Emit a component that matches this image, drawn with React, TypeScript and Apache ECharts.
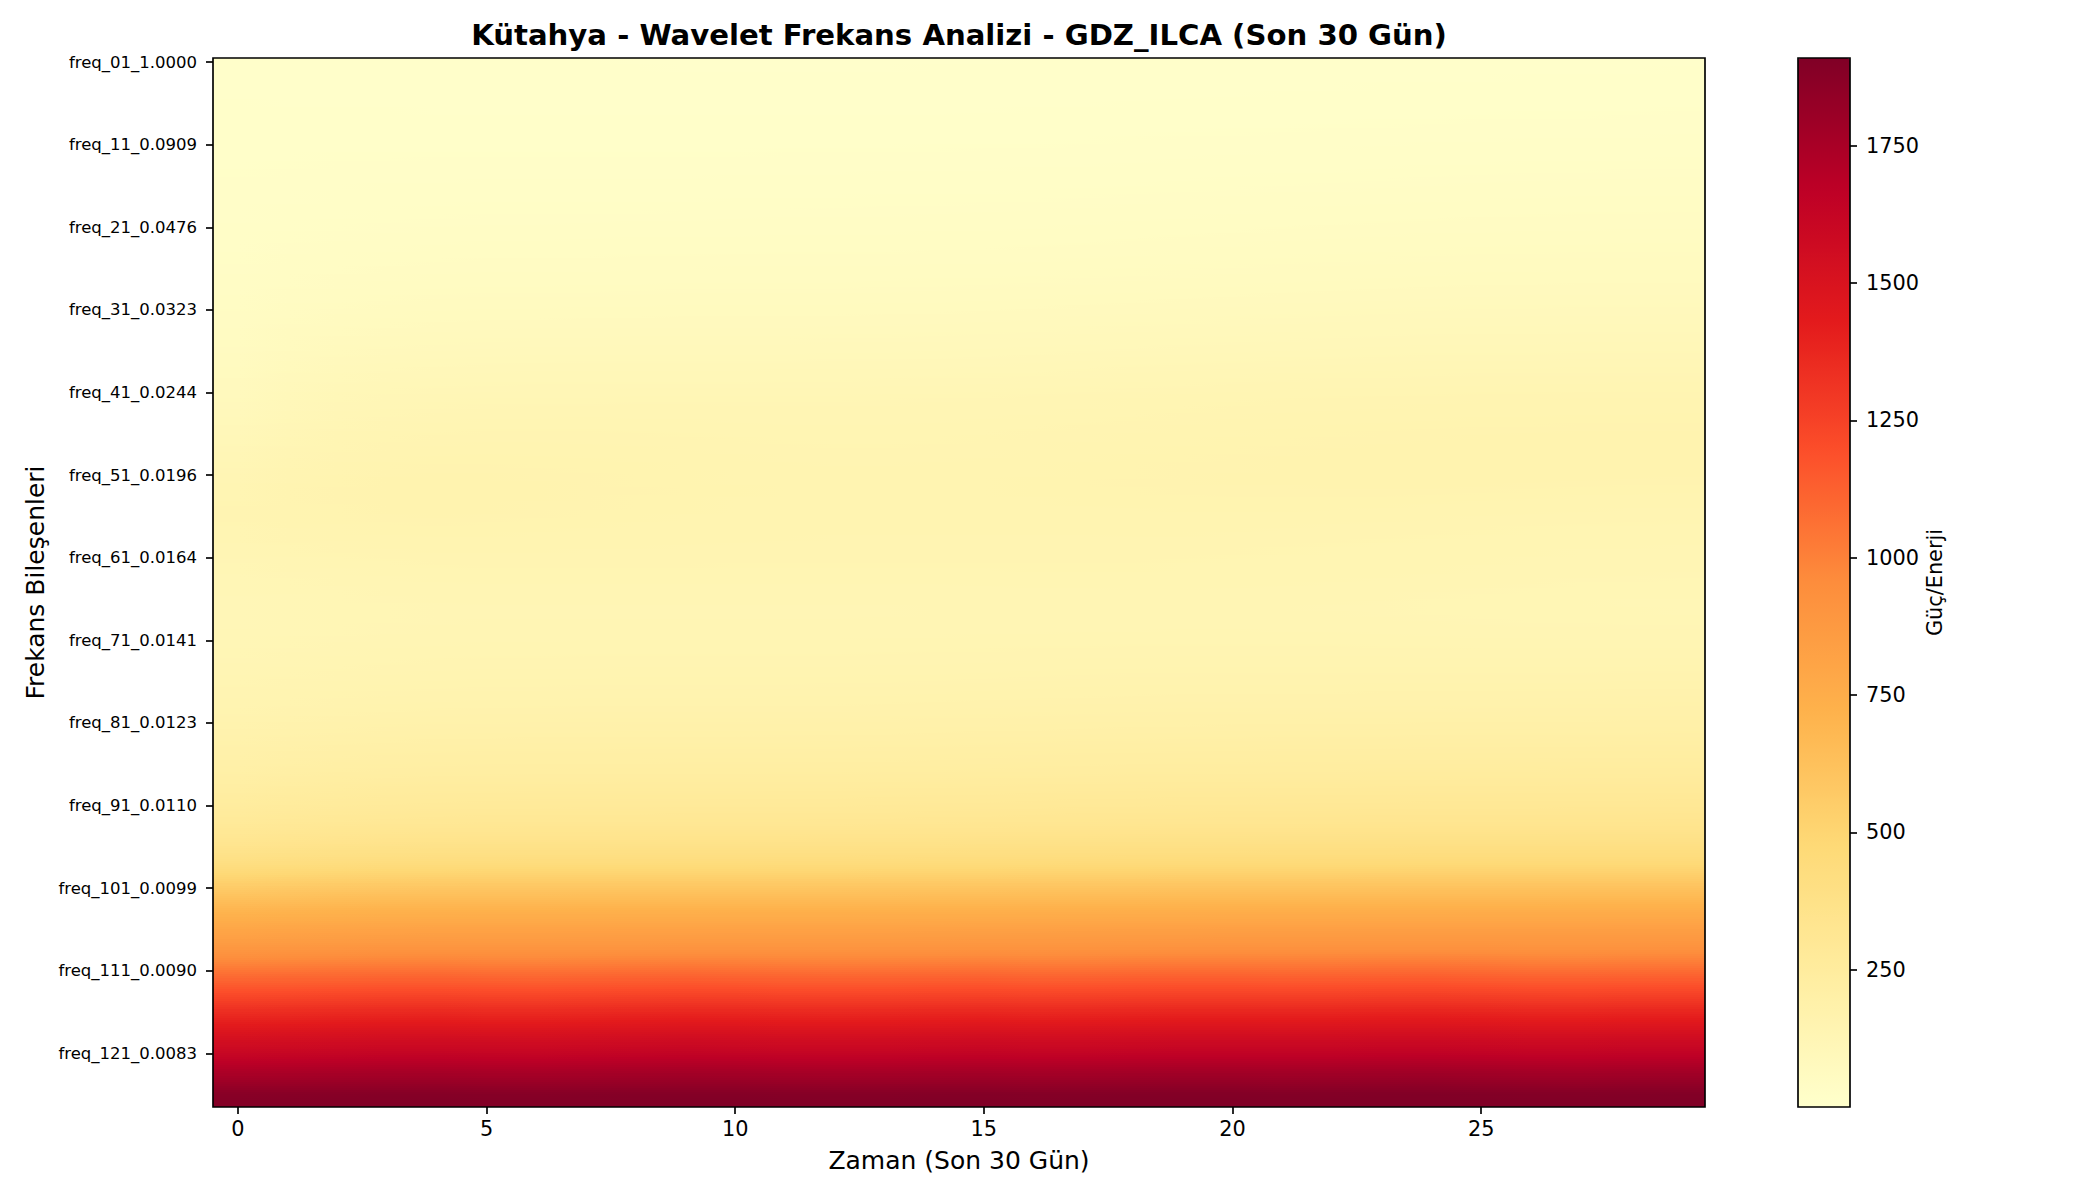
import { useEffect, useRef } from 'react'
import * as echarts from 'echarts'

// colormap YlOrRd
const colorStops = ['#ffffcc', '#ffeda0', '#fed976', '#feb24c', '#fd8d3c', '#fc4e2a', '#e31a1c', '#bd0026', '#800026']
const colorbarTicks = [250, 500, 750, 1000, 1250, 1500, 1750]
const colorMax = 1910
const days = Array.from({ length: 30 }, (_, i) => String(i))

// rows freq_01 .. freq_40, values
const topRows = [
  [12,11,11,10,10,9,9,9,8,8,8,8,8,8,8,8,9,9,9,10,10,11,11,11,12,12,12,12,13,13],
  [12,11,11,10,10,10,9,9,9,8,8,8,8,8,9,9,9,9,10,10,11,11,12,12,12,13,13,13,13,14],
  [12,12,11,11,10,10,10,9,9,9,9,9,9,9,9,9,10,10,10,11,11,12,12,13,13,13,14,14,14,15],
  [13,12,12,11,11,11,10,10,10,10,9,9,9,10,10,10,10,11,11,12,12,13,13,14,14,14,15,15,15,16],
  [13,13,12,12,12,11,11,11,11,10,10,10,10,11,11,11,11,12,12,13,13,14,14,15,15,15,16,16,16,17],
  [14,13,13,13,12,12,12,12,12,12,11,11,11,12,12,12,13,13,14,14,15,15,16,16,16,17,17,17,18,18],
  [14,14,14,14,13,13,13,13,13,13,13,13,13,13,13,13,14,14,15,15,16,16,17,17,18,18,19,19,19,20],
  [15,15,15,15,14,14,14,14,14,14,14,14,14,14,14,15,15,16,16,17,17,18,18,19,19,20,20,20,21,21],
  [15,16,16,16,15,15,15,15,15,15,15,15,15,15,16,16,16,17,17,18,19,19,20,20,21,21,22,22,22,23],
  [16,16,17,17,16,16,16,16,16,16,16,16,16,17,17,17,18,18,19,20,20,21,21,22,23,23,24,24,24,25],
  [17,17,18,18,18,18,18,18,18,18,18,18,18,18,19,19,19,20,21,21,22,23,23,24,25,25,26,26,26,27],
  [17,18,19,19,19,19,19,19,19,19,19,20,20,20,20,21,21,22,22,23,24,25,25,26,27,27,28,28,28,29],
  [18,19,20,20,21,21,21,21,21,21,21,21,22,22,22,22,23,23,24,25,26,27,27,28,29,29,30,30,30,31],
  [19,20,21,22,22,22,22,22,22,22,23,23,23,24,24,24,25,25,26,27,28,29,29,30,31,31,32,32,33,33],
  [20,21,22,23,23,24,24,24,24,24,25,25,25,26,26,26,27,27,28,29,30,31,31,32,33,34,34,35,35,35],
  [20,22,24,25,25,26,26,26,26,26,27,27,27,28,28,28,29,29,30,31,32,33,34,35,35,36,37,37,37,38],
  [21,23,25,26,27,28,28,28,28,28,29,29,29,30,30,30,31,32,33,34,35,36,36,37,38,39,39,40,40,40],
  [22,24,27,28,29,30,30,30,30,30,31,31,31,32,32,33,33,34,35,36,37,38,39,40,41,41,42,42,43,43],
  [23,26,28,30,31,32,32,32,32,33,33,33,34,34,34,35,35,36,37,38,39,41,42,43,43,44,45,45,45,46],
  [24,27,30,32,33,34,34,34,35,35,35,36,36,36,37,37,38,39,40,41,42,43,44,45,46,47,47,48,48,48],
  [25,29,32,34,35,36,36,37,37,37,38,38,38,38,39,39,40,41,42,43,44,46,47,48,49,49,50,50,51,51],
  [27,31,34,36,38,39,39,39,40,40,40,41,41,41,42,42,43,44,45,46,47,49,50,51,52,53,53,54,54,54],
  [28,33,36,38,40,41,41,42,42,42,43,43,43,43,44,44,45,46,47,49,50,52,53,54,55,55,56,56,57,57],
  [30,35,38,41,43,44,44,44,45,45,45,46,46,46,47,47,48,49,50,52,53,55,56,57,58,59,59,60,60,60],
  [32,37,41,44,46,47,47,47,48,48,49,49,49,49,50,50,51,52,54,55,57,58,59,60,61,62,63,63,63,64],
  [34,40,44,47,49,50,50,50,51,51,52,52,52,52,53,53,54,56,57,59,60,62,63,64,65,66,66,67,67,67],
  [36,42,47,50,52,53,53,54,54,55,55,55,55,55,56,56,57,59,60,62,63,65,66,67,68,69,70,70,70,71],
  [38,45,50,53,55,56,56,57,57,58,58,58,58,59,59,60,61,62,64,65,67,69,70,71,72,73,73,74,74,74],
  [40,48,53,56,59,60,60,60,61,62,62,62,62,62,63,64,65,66,68,70,71,73,74,75,76,77,77,78,78,78],
  [43,51,56,60,63,64,64,65,65,66,66,66,66,67,67,68,69,71,72,74,76,77,78,79,80,81,82,82,82,83],
  [46,54,60,64,67,68,68,69,69,70,70,70,70,71,71,72,73,75,77,79,80,82,83,84,85,86,86,87,87,87],
  [48,57,64,68,71,72,72,73,73,74,74,74,74,75,76,77,78,80,81,83,85,86,87,88,89,90,91,91,91,92],
  [51,61,68,72,75,76,77,77,78,78,78,78,79,79,80,81,82,84,86,88,89,91,92,93,94,95,95,96,96,96],
  [54,65,72,77,80,81,82,82,83,83,83,83,84,84,85,86,87,89,91,93,94,96,97,98,99,100,100,101,101,101],
  [58,69,77,82,85,86,87,87,88,88,88,88,89,89,90,91,92,94,96,98,99,101,102,103,104,105,105,106,106,106],
  [61,73,82,87,90,91,92,93,93,93,93,93,94,94,95,96,97,99,101,103,105,106,107,108,109,110,110,111,111,111],
  [65,78,87,92,95,96,97,98,98,98,98,98,99,99,100,101,103,105,107,109,110,112,113,114,115,115,116,116,116,117],
  [68,82,91,97,100,102,103,103,103,103,103,104,104,104,105,106,108,110,112,114,116,117,118,119,120,121,121,122,122,122],
  [72,87,96,102,105,107,108,108,108,108,108,109,109,109,111,112,113,115,118,120,121,123,124,125,126,127,127,128,128,128],
  [76,91,101,107,110,112,113,113,113,113,113,114,114,115,116,117,119,121,123,125,127,129,130,131,132,132,133,133,134,134],
]

// rows freq_41 .. freq_90
const middleRows = [
  [80,95,106,112,115,117,118,118,119,119,119,119,119,120,121,122,124,126,128,131,133,134,135,136,137,138,138,139,139,140],
  [85,100,111,117,121,123,124,124,124,125,125,125,125,126,127,128,130,132,134,137,138,140,141,142,143,144,144,145,145,146],
  [90,105,116,122,126,128,129,129,130,130,129,128,128,128,129,130,131,133,136,138,140,142,143,144,145,146,146,147,147,148],
  [95,110,120,126,130,132,132,133,132,132,131,130,130,130,131,132,134,136,138,141,143,145,146,147,148,149,149,150,150,150],
  [100,114,124,130,134,136,136,136,136,135,134,133,133,133,134,135,137,139,141,144,146,148,149,150,151,152,152,153,153,153],
  [105,119,129,134,138,140,140,140,139,138,137,136,135,135,136,138,140,142,144,146,148,150,152,153,154,154,155,155,155,155],
  [110,124,134,139,142,144,144,143,142,141,140,139,138,138,139,140,142,144,146,148,150,152,153,154,155,156,156,156,156,156],
  [115,129,138,144,146,147,147,146,145,144,143,141,140,140,141,142,144,146,148,150,152,153,155,156,157,157,157,157,157,157],
  [120,133,142,148,150,151,150,149,148,146,145,143,142,142,143,144,146,148,150,152,153,155,156,157,158,158,158,158,157,157],
  [125,137,146,151,153,153,152,151,150,148,147,145,144,144,145,146,148,150,151,153,154,155,156,157,158,158,158,158,157,157],
  [129,141,149,154,155,155,154,153,151,150,148,147,146,146,147,148,149,151,152,154,155,156,156,157,157,157,157,156,156,155],
  [133,144,152,156,157,157,155,154,152,151,149,148,147,147,148,149,150,151,153,154,155,155,156,156,156,156,155,154,153,153],
  [136,146,153,157,158,157,156,154,153,151,150,148,147,147,148,149,150,151,152,153,154,154,154,154,154,153,152,151,151,150],
  [138,147,153,157,158,157,155,154,152,151,149,148,147,147,148,149,149,150,151,152,152,152,152,152,151,150,149,148,147,147],
  [140,147,152,156,157,156,154,153,151,150,148,147,146,146,147,147,148,149,149,150,150,150,150,149,148,147,146,145,144,144],
  [140,146,151,154,155,154,153,151,150,149,147,146,146,146,146,146,147,147,148,148,148,148,147,146,145,144,143,142,141,141],
  [139,145,149,152,153,152,151,150,149,147,146,146,145,145,145,145,146,146,146,146,146,145,144,143,142,141,140,139,139,138],
  [137,142,146,150,151,150,149,148,147,146,145,145,144,144,144,144,144,144,145,145,144,143,142,141,140,139,138,137,136,136],
  [134,140,144,147,148,148,147,146,146,145,144,144,143,143,143,143,143,143,143,143,142,141,140,139,138,137,136,135,134,134],
  [131,136,141,144,145,145,145,144,144,143,143,142,142,142,142,142,142,142,142,141,140,139,138,137,136,135,134,133,133,132],
  [128,133,138,140,142,142,142,142,142,141,141,141,140,140,140,140,140,140,140,140,139,138,137,136,135,134,133,132,131,131],
  [125,130,134,137,139,140,140,140,140,140,139,139,139,139,139,139,139,139,139,138,137,137,136,135,134,133,131,130,130,129],
  [122,127,131,134,136,137,137,137,137,137,137,137,137,137,137,137,138,138,138,138,137,137,136,134,133,132,130,129,128,127],
  [120,125,129,131,133,134,134,134,134,134,134,134,134,134,134,134,135,135,135,135,135,134,133,132,130,129,128,126,126,125],
  [118,123,126,129,131,131,131,131,131,131,131,131,131,131,131,132,132,132,133,133,132,132,131,129,128,127,125,124,124,123],
  [116,121,124,127,128,129,129,129,129,129,129,129,129,129,129,130,130,130,131,131,130,130,129,128,126,125,124,123,122,122],
  [115,119,123,125,127,127,127,127,127,127,127,127,127,127,128,128,128,129,129,129,129,128,127,126,125,124,123,122,122,121],
  [115,119,122,125,126,127,127,127,127,127,127,127,127,127,128,128,129,129,130,130,129,129,128,127,126,125,124,123,123,122],
  [116,120,123,126,127,128,128,128,128,128,128,128,128,129,129,130,130,131,131,131,131,131,130,129,128,127,126,126,125,125],
  [117,121,125,127,129,130,130,130,130,130,130,130,130,131,131,132,132,133,133,134,134,133,133,132,131,130,130,129,129,128],
  [119,123,127,130,131,132,132,133,133,133,133,133,133,134,134,135,135,136,136,137,137,137,136,135,135,134,134,133,133,133],
  [122,126,130,133,134,135,135,136,136,136,136,136,136,137,137,138,139,139,140,140,140,140,140,139,139,138,138,138,138,138],
  [125,129,133,136,137,138,138,139,139,139,139,139,139,140,141,141,142,143,143,144,144,144,144,144,143,143,143,143,143,143],
  [128,132,136,139,141,142,142,142,143,143,143,143,143,144,144,145,146,147,147,148,148,148,148,148,148,148,148,148,148,149],
  [132,136,140,143,145,146,146,146,147,147,147,147,147,148,148,149,150,151,152,152,153,153,153,153,153,153,153,153,154,154],
  [136,140,144,147,149,150,150,150,151,151,151,151,151,152,153,154,155,156,157,157,158,158,158,158,158,159,159,159,160,160],
  [140,144,148,151,153,154,154,155,155,155,155,155,156,156,157,158,160,161,162,163,163,163,163,164,164,164,165,165,166,166],
  [144,148,153,156,158,159,159,160,160,160,160,161,161,162,163,164,165,166,167,168,168,169,169,169,170,170,171,171,172,172],
  [148,153,158,161,163,164,165,165,165,165,166,166,166,167,168,169,171,172,173,174,174,175,175,176,176,177,177,178,178,179],
  [153,159,164,167,170,171,171,172,172,172,172,173,173,174,175,176,178,179,180,181,182,182,183,183,184,184,185,185,186,186],
  [160,166,171,175,177,178,179,179,179,180,180,180,181,181,183,184,185,187,188,189,190,190,191,191,192,192,193,193,194,194],
  [167,173,178,182,184,186,186,186,187,187,187,188,188,189,190,192,193,195,196,197,198,198,199,200,200,201,201,202,202,203],
  [174,180,186,189,192,193,194,194,195,195,195,195,196,197,198,199,201,203,204,205,206,207,208,208,209,209,210,210,211,211],
  [181,188,194,197,200,201,202,202,203,203,203,203,204,205,206,208,210,211,213,214,215,216,216,217,218,218,219,219,220,220],
  [188,196,202,205,208,209,210,210,211,211,211,212,212,213,215,216,218,220,221,223,224,225,225,226,227,227,228,229,229,230],
  [196,204,210,214,216,218,219,219,219,220,220,220,221,222,224,225,227,229,231,232,233,234,235,236,236,237,238,238,239,239],
  [204,213,219,223,226,227,228,229,229,229,229,230,230,232,233,235,237,239,241,242,243,244,245,246,247,247,248,249,249,250],
  [214,223,230,234,237,238,239,240,240,240,240,241,241,243,245,247,249,251,252,254,255,256,257,258,258,259,260,260,261,261],
  [226,235,242,247,250,251,252,252,253,253,253,254,254,256,258,260,262,264,266,267,268,269,270,271,272,273,273,274,275,275],
  [238,247,254,259,262,264,265,265,266,266,266,267,267,269,271,273,275,278,279,281,282,283,284,285,286,286,287,288,288,289],
]

// rows freq_91 .. freq_127
const bottomRows = [
  [248,257,264,269,272,274,275,276,276,276,277,277,278,280,282,284,286,288,290,292,293,294,295,296,297,298,298,299,299,300],
  [262,271,278,283,286,288,289,290,290,291,291,291,292,294,296,298,301,303,305,306,308,309,310,311,312,313,313,314,314,315],
  [277,286,293,298,301,303,304,305,305,306,306,306,307,309,311,314,316,318,320,322,323,324,325,326,327,328,329,329,330,331],
  [296,305,313,318,321,323,325,325,326,326,326,327,328,330,332,334,337,339,341,343,344,346,347,348,349,349,350,351,351,352],
  [316,325,333,338,342,344,345,346,346,347,347,348,349,351,353,355,358,360,362,364,366,367,368,369,370,371,371,372,372,373],
  [341,351,359,364,368,370,371,372,373,373,373,374,375,377,379,382,384,387,389,391,392,393,394,396,397,397,398,398,399,399],
  [372,382,390,395,399,401,402,403,404,404,404,405,406,408,411,413,416,418,420,422,423,425,426,427,428,428,429,430,430,430],
  [407,417,425,431,434,436,438,439,439,440,440,441,441,443,446,449,451,454,456,457,459,460,461,462,463,464,464,465,465,465],
  [456,466,475,481,485,487,488,489,489,490,490,491,491,493,496,498,501,503,505,507,508,509,510,511,512,513,513,513,514,514],
  [507,518,526,532,536,537,538,539,540,540,540,541,542,544,546,548,550,552,554,556,558,559,560,561,562,562,562,563,563,563],
  [564,574,582,588,592,594,594,595,596,597,597,597,598,600,602,604,606,608,610,612,613,614,615,616,617,617,618,618,618,619],
  [612,621,629,634,638,639,639,640,641,642,642,642,643,645,647,649,651,653,655,657,658,659,660,661,662,662,662,663,663,663],
  [660,667,674,680,683,684,684,685,686,687,688,688,689,690,692,694,696,698,700,702,703,704,705,706,707,707,707,708,708,708],
  [706,713,720,726,729,730,730,731,732,733,734,734,734,736,738,740,742,744,746,747,749,750,751,752,752,753,753,753,754,754],
  [749,756,763,768,771,772,772,773,774,775,776,776,776,778,780,782,784,786,788,789,791,792,793,794,794,795,795,795,796,796],
  [794,801,808,813,816,816,816,817,819,820,821,820,820,821,823,826,828,830,832,833,835,836,837,838,838,838,838,838,839,839],
  [829,836,843,848,850,850,850,851,853,855,856,855,855,856,858,861,863,865,867,868,870,871,872,873,873,873,873,873,874,874],
  [868,875,882,887,890,888,888,889,892,894,895,893,892,893,896,899,897,899,902,905,907,906,907,909,910,908,903,901,905,907],
  [923,930,937,942,945,942,941,943,947,950,951,948,946,947,950,953,950,953,957,961,962,960,962,965,966,963,957,955,960,962],
  [978,984,992,998,1000,994,992,998,1004,1008,1006,1000,998,1000,1005,1008,1003,1006,1012,1016,1016,1014,1016,1022,1024,1018,1010,1008,1014,1016],
  [1037,1044,1052,1058,1060,1054,1052,1058,1064,1068,1066,1060,1058,1060,1065,1068,1063,1066,1072,1076,1076,1074,1076,1082,1084,1078,1070,1068,1074,1076],
  [1098,1105,1112,1118,1120,1114,1112,1118,1124,1128,1126,1120,1118,1120,1125,1128,1123,1126,1132,1136,1136,1134,1136,1142,1144,1138,1130,1128,1134,1136],
  [1158,1164,1172,1178,1180,1174,1172,1178,1184,1188,1186,1180,1178,1180,1185,1188,1183,1186,1192,1196,1196,1194,1196,1202,1204,1198,1190,1188,1194,1196],
  [1218,1224,1232,1238,1240,1234,1232,1238,1244,1248,1246,1240,1238,1240,1245,1248,1243,1246,1252,1256,1256,1254,1256,1262,1264,1258,1250,1248,1254,1256],
  [1278,1284,1292,1298,1300,1294,1292,1298,1304,1308,1306,1300,1298,1300,1305,1308,1303,1306,1312,1316,1316,1314,1316,1322,1324,1318,1310,1308,1314,1316],
  [1343,1349,1357,1363,1365,1359,1357,1363,1369,1373,1371,1365,1363,1365,1370,1373,1368,1371,1377,1381,1381,1379,1381,1387,1389,1383,1375,1373,1379,1381],
  [1398,1404,1412,1418,1420,1414,1412,1418,1424,1428,1426,1420,1418,1420,1425,1428,1423,1426,1432,1436,1436,1434,1436,1442,1444,1438,1430,1428,1434,1436],
  [1453,1459,1467,1473,1475,1469,1467,1473,1479,1483,1481,1475,1473,1475,1480,1483,1478,1481,1487,1491,1491,1489,1491,1497,1499,1493,1485,1483,1489,1491],
  [1508,1514,1522,1528,1530,1524,1522,1528,1534,1538,1536,1530,1528,1530,1535,1538,1533,1536,1542,1546,1546,1544,1546,1552,1554,1548,1540,1538,1544,1546],
  [1558,1564,1572,1578,1580,1574,1572,1578,1584,1588,1586,1580,1578,1580,1585,1588,1583,1586,1592,1596,1596,1594,1596,1602,1604,1598,1590,1588,1594,1596],
  [1608,1614,1622,1628,1630,1624,1622,1628,1634,1638,1636,1630,1628,1630,1635,1638,1633,1636,1642,1646,1646,1644,1646,1652,1654,1648,1640,1638,1644,1646],
  [1663,1669,1677,1683,1685,1679,1677,1683,1689,1693,1691,1685,1683,1685,1690,1693,1688,1691,1697,1701,1701,1699,1701,1707,1709,1703,1695,1693,1699,1701],
  [1718,1724,1732,1738,1740,1734,1732,1738,1744,1748,1746,1740,1738,1740,1745,1748,1743,1746,1752,1756,1756,1754,1756,1762,1764,1758,1750,1748,1754,1756],
  [1770,1775,1782,1788,1790,1785,1783,1788,1794,1798,1796,1790,1788,1790,1795,1798,1793,1796,1802,1806,1806,1804,1806,1812,1814,1808,1800,1798,1804,1806],
  [1824,1828,1834,1838,1840,1836,1834,1838,1843,1846,1845,1840,1838,1840,1844,1846,1842,1845,1850,1853,1853,1851,1853,1858,1860,1855,1849,1847,1852,1853],
  [1878,1880,1885,1888,1890,1887,1885,1888,1892,1894,1893,1890,1888,1890,1893,1895,1891,1894,1897,1899,1899,1898,1899,1903,1904,1900,1896,1895,1898,1900],
  [1892,1894,1898,1901,1902,1900,1899,1901,1904,1906,1905,1902,1901,1902,1905,1906,1904,1905,1907,1908,1908,1907,1908,1910,1910,1908,1906,1905,1907,1908],
]

const powerRows = [...topRows, ...middleRows, ...bottomRows]
const freqNames = powerRows.map((_, i) => `freq_${String(i + 1).padStart(2, '0')}_${(1 / (i + 1)).toFixed(4)}`)

const FONT = '"DejaVu Sans", sans-serif'
const STRIPS_PER_ROW = 4

// the picture is smoothed like imshow(interpolation='bilinear'), so each row is
// painted as a few strips with a left-to-right gradient instead of flat cells
function renderRow(params: any, api: any) {
  const r = params.dataIndex
  const [cx, cy] = api.coord([0, r])
  const [cw, ch] = api.size([1, 1])
  const row = powerRows[r]
  const children = []
  for (let s = 0; s < STRIPS_PER_ROW; s++) {
    const offset = (s + 0.5) / STRIPS_PER_ROW - 0.5
    const other = powerRows[offset < 0 ? Math.max(r - 1, 0) : Math.min(r + 1, powerRows.length - 1)]
    const w = Math.abs(offset)
    const stops = row.map((v, c) => ({
      offset: (c + 0.5) / row.length,
      color: echarts.color.lerp((v * (1 - w) + other[c] * w) / colorMax, colorStops),
    }))
    const y0 = Math.floor(cy - ch / 2 + (s * ch) / STRIPS_PER_ROW)
    const y1 = Math.ceil(cy - ch / 2 + ((s + 1) * ch) / STRIPS_PER_ROW)
    children.push({
      type: 'rect',
      shape: { x: cx - cw / 2, y: y0, width: cw * row.length, height: y1 - y0 },
      style: { fill: new echarts.graphic.LinearGradient(0, 0, 1, 0, stops) },
    })
  }
  return { type: 'group', children }
}

export default function App() {
  const chartRef = useRef<HTMLDivElement>(null)

  useEffect(() => {
    if (!chartRef.current) return
    const chart = echarts.init(chartRef.current, undefined, { renderer: 'svg' })

    const tickStyle = { show: true, length: 7, lineStyle: { color: '#000', width: 1.67 } }

    chart.setOption({
      animation: false,
      backgroundColor: '#fff',
      textStyle: { fontFamily: FONT },
      title: {
        text: 'Kütahya - Wavelet Frekans Analizi - GDZ_ILCA (Son 30 Gün)',
        left: 954,
        top: 15,
        textAlign: 'center',
        textStyle: { fontFamily: FONT, fontSize: 29.17, fontWeight: 'bold', color: '#000' },
      },
      grid: [
        { left: 213, top: 58, width: 1492, height: 1049 },
        { left: 1798, top: 58, width: 52, height: 1049 },
      ],
      xAxis: [
        {
          type: 'category',
          data: days,
          name: 'Zaman (Son 30 Gün)',
          nameLocation: 'middle',
          nameGap: 41,
          nameTextStyle: { fontFamily: FONT, fontSize: 25, color: '#000' },
          axisLine: { show: false },
          axisTick: { ...tickStyle, alignWithLabel: true, interval: 4 },
          axisLabel: { interval: 4, margin: 11, fontFamily: FONT, fontSize: 20.83, color: '#000' },
        },
        { type: 'category', gridIndex: 1, data: [''], axisLine: { show: false }, axisTick: { show: false }, axisLabel: { show: false } },
      ],
      yAxis: [
        {
          type: 'category',
          data: freqNames,
          inverse: true,
          name: 'Frekans Bileşenleri',
          nameLocation: 'middle',
          nameGap: 162,
          nameTextStyle: { fontFamily: FONT, fontSize: 25, color: '#000' },
          axisLine: { show: false },
          axisTick: { ...tickStyle, alignWithLabel: true, interval: 9 },
          axisLabel: { interval: 9, margin: 16, padding: [3, 0, 0, 0], fontFamily: FONT, fontSize: 16.5, color: '#000' },
        },
        {
          type: 'value',
          gridIndex: 1,
          position: 'right',
          min: 0,
          max: colorMax,
          name: 'Güç/Enerji',
          nameLocation: 'middle',
          nameRotate: 90,
          nameGap: 74,
          nameTextStyle: { fontFamily: FONT, fontSize: 20.83, color: '#000' },
          splitLine: { show: false },
          axisLine: { show: false },
          axisTick: { ...tickStyle, customValues: colorbarTicks },
          axisLabel: {
            customValues: colorbarTicks,
            margin: 16,
            padding: [3, 0, 0, 0],
            formatter: (v: number) => String(v),
            fontFamily: FONT,
            fontSize: 20.83,
            color: '#000',
          },
        },
      ],
      visualMap: {
        type: 'continuous',
        min: 0,
        max: colorMax,
        seriesIndex: 1,
        calculable: false,
        hoverLink: false,
        left: 1798,
        top: 58,
        padding: 0,
        itemWidth: 52,
        itemHeight: 1049,
        text: ['', ''],
        inRange: { color: colorStops },
      },
      series: [
        {
          type: 'custom',
          coordinateSystem: 'cartesian2d',
          data: powerRows.map((_, r) => [0, r]),
          encode: { x: 0, y: 1 },
          renderItem: renderRow,
          silent: true,
        },
        { type: 'line', xAxisIndex: 1, yAxisIndex: 1, data: [] },
      ],
      graphic: [
        { type: 'rect', z: 100, shape: { x: 213, y: 58, width: 1492, height: 1049 }, style: { fill: 'none', stroke: '#000', lineWidth: 1.67 } },
        { type: 'rect', z: 100, shape: { x: 1798, y: 58, width: 52, height: 1049 }, style: { fill: 'none', stroke: '#000', lineWidth: 1.67 } },
      ],
    })

    return () => chart.dispose()
  }, [])

  return <div ref={chartRef} style={{ position: 'absolute', left: 0, top: 0, width: 2100, height: 1200 }} />
}
